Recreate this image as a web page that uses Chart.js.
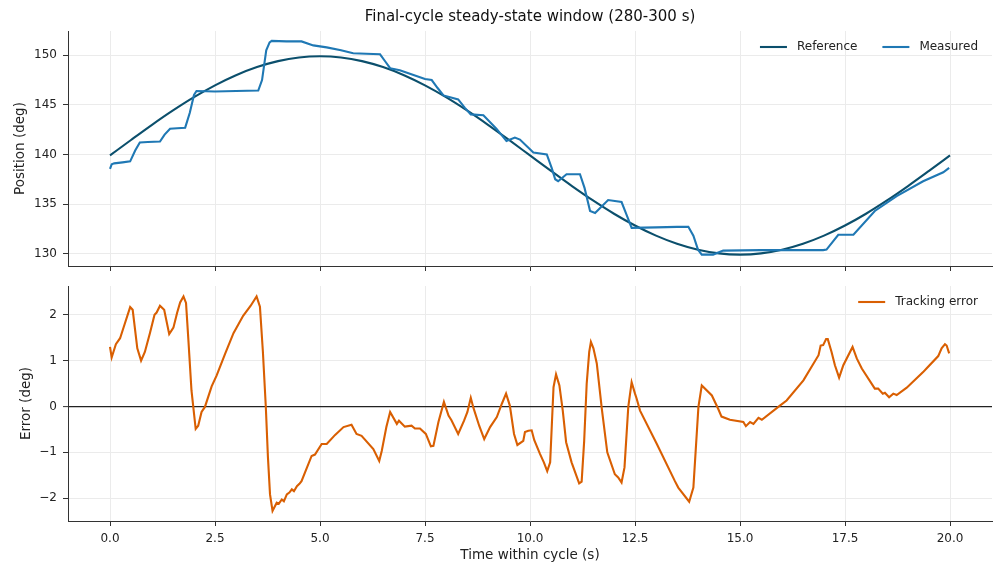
<!DOCTYPE html>
<html>
<head>
<meta charset="utf-8">
<script src="https://cdn.jsdelivr.net/npm/chart.js@4.4.1/dist/chart.umd.min.js"></script>
<style>
  html, body { margin: 0; padding: 0; background: #fff; }
  #wrap { position: relative; width: 993px; height: 566px; }
  canvas { position: absolute; left: 0; }
</style>
</head>
<body>
<div id="wrap">
  <canvas id="posChart" width="993" height="276" style="top:0"></canvas>
  <canvas id="errChart" width="993" height="290" style="top:276px"></canvas>
</div>
<script>
// tick labels
const xTicks = [0, 2.5, 5, 7.5, 10, 12.5, 15, 17.5, 20];
const posTicks = [130, 135, 140, 145, 150];
const errTicks = [-2, -1, 0, 1, 2];

// reference trajectory (deg)
const refTime = [0, 0.5, 1, 1.5, 2, 2.5, 3, 3.5, 4, 4.5, 5, 5.5, 6, 6.5, 7, 7.5, 8, 8.5, 9, 9.5,
  10, 10.5, 11, 11.5, 12, 12.5, 13, 13.5, 14, 14.5, 15, 15.5, 16, 16.5, 17, 17.5, 18, 18.5, 19, 19.5, 20];
const refPos = [139.9, 141.46, 142.99, 144.44, 145.78, 146.97, 147.99, 148.81, 149.41, 149.78, 149.9,
  149.78, 149.41, 148.81, 147.99, 146.97, 145.78, 144.44, 142.99, 141.46, 139.9,
  138.34, 136.81, 135.36, 134.02, 132.83, 131.81, 130.99, 130.39, 130.02, 129.9,
  130.02, 130.39, 130.99, 131.81, 132.83, 134.02, 135.36, 136.81, 138.34, 139.9];

// measured position (deg)
const measTime = [0, 0.04, 0.1, 0.3, 0.48, 0.6, 0.71, 0.9, 1.19, 1.3, 1.43, 1.6, 1.79, 1.9, 2.0, 2.06,
  2.5, 3.0, 3.53, 3.62, 3.72, 3.8, 3.85, 4.2, 4.56, 4.84, 5.16, 5.5, 5.79, 6.1, 6.43, 6.55, 6.67, 6.9,
  7.14, 7.5, 7.66, 7.8, 7.94, 8.29, 8.45, 8.59, 8.89, 9.2, 9.44, 9.64, 9.76, 10.08, 10.4, 10.52, 10.6,
  10.67, 10.87, 11.19, 11.3, 11.43, 11.55, 11.86, 12.18, 12.3, 12.42, 13.0, 13.5, 13.77, 13.89, 14.0,
  14.09, 14.36, 14.6, 15.5, 16.5, 16.98, 17.06, 17.34, 17.7, 18.21, 18.73, 19.36, 19.84, 19.98];
const measPos = [138.55, 139.0, 139.1, 139.2, 139.3, 140.4, 141.2, 141.25, 141.3, 142.0, 142.6, 142.65,
  142.7, 144.2, 146.0, 146.4, 146.35, 146.4, 146.45, 147.5, 150.5, 151.3, 151.45, 151.4, 151.4, 151.0,
  150.8, 150.5, 150.2, 150.15, 150.1, 149.4, 148.7, 148.5, 148.15, 147.6, 147.5, 146.7, 145.95, 145.55,
  144.7, 144.04, 143.95, 142.6, 141.35, 141.7, 141.5, 140.2, 140.0, 138.6, 137.5, 137.3, 138.0, 138.0,
  136.6, 134.3, 134.1, 135.4, 135.2, 133.9, 132.6, 132.65, 132.7, 132.7, 131.8, 130.4, 129.9, 129.9,
  130.3, 130.35, 130.35, 130.35, 130.4, 131.9, 131.9, 134.3, 135.8, 137.3, 138.2, 138.65];

// tracking error (deg)
const errTime = [0, 0.04, 0.14, 0.24, 0.35, 0.48, 0.54, 0.65, 0.74, 0.83, 0.95, 1.06, 1.11, 1.19, 1.29,
  1.41, 1.51, 1.6, 1.67, 1.75, 1.81, 1.87, 1.94, 2.04, 2.1, 2.18, 2.26, 2.42, 2.54, 2.74, 2.94, 3.17,
  3.35, 3.49, 3.57, 3.64, 3.71, 3.76, 3.81, 3.87, 3.97, 4.02, 4.09, 4.14, 4.21, 4.27, 4.33, 4.38, 4.45,
  4.51, 4.56, 4.8, 4.88, 5.04, 5.16, 5.36,
  5.56, 5.75, 5.87, 5.99, 6.27, 6.41, 6.47, 6.58, 6.67, 6.83, 6.88, 7.02, 7.18, 7.26, 7.38, 7.52, 7.64,
  7.7, 7.82, 7.95, 8.06, 8.13, 8.29, 8.43, 8.51, 8.59, 8.65, 8.79, 8.91, 9.05, 9.21, 9.33, 9.43, 9.52,
  9.62, 9.7, 9.84, 9.88, 9.96, 10.04, 10.1, 10.24, 10.33, 10.41, 10.48, 10.52, 10.56, 10.62, 10.7,
  10.78, 10.86, 10.99, 11.17, 11.23, 11.29, 11.35, 11.41, 11.45, 11.51, 11.59, 11.71, 11.84, 12.02,
  12.1, 12.18, 12.25, 12.34, 12.42, 12.5, 12.54, 12.62, 13.02, 13.45, 13.53, 13.79, 13.89, 14.01,
  14.09, 14.33, 14.48, 14.56, 14.76, 15.08, 15.14, 15.24, 15.32, 15.44, 15.52, 15.95, 16.11, 16.51,
  16.87, 16.92, 16.98, 17.05, 17.09, 17.18, 17.26, 17.36, 17.46, 17.68, 17.78, 17.9, 18.21, 18.29,
  18.4, 18.45, 18.55, 18.65, 18.73, 18.97, 19.36, 19.44, 19.72, 19.8, 19.88, 19.92, 19.98];
const errVal = [1.3, 1.07, 1.36, 1.49, 1.8, 2.17, 2.11, 1.27, 1.0, 1.19, 1.6, 2.0, 2.05, 2.2, 2.11,
  1.58, 1.72, 2.05, 2.27, 2.4, 2.26, 1.4, 0.35, -0.49, -0.42, -0.12, -0.01, 0.44, 0.68, 1.15, 1.6, 1.98,
  2.2, 2.4, 2.18, 1.2, -0.01, -1.1, -1.92, -2.28, -2.1, -2.12, -2.03, -2.07, -1.92, -1.88, -1.81, -1.85,
  -1.74, -1.69, -1.63, -1.08, -1.05, -0.82, -0.82,
  -0.62, -0.45, -0.4, -0.6, -0.64, -0.93, -1.19, -0.97, -0.45, -0.12, -0.38, -0.31, -0.44, -0.42, -0.48,
  -0.48, -0.6, -0.87, -0.86, -0.34, 0.1, -0.2, -0.3, -0.6, -0.31, -0.12, 0.19, -0.02, -0.42, -0.71,
  -0.45, -0.23, 0.06, 0.28, 0.02, -0.6, -0.84, -0.75, -0.56, -0.53, -0.52, -0.73, -1.04, -1.22, -1.41,
  -1.22, -0.4, 0.42, 0.7, 0.46, -0.09, -0.78, -1.22, -1.68, -1.64, -0.75, 0.5, 1.19, 1.41, 1.27, 0.94,
  -0.05, -1.0, -1.48, -1.55, -1.66, -1.33, -0.01, 0.53, 0.28, 0.17, -0.09, -0.82, -1.63, -1.77, -2.08,
  -1.77, -0.01, 0.46, 0.24, -0.05, -0.22, -0.29, -0.34, -0.43, -0.34, -0.38, -0.25, -0.29, 0.02, 0.13,
  0.57, 1.12, 1.33, 1.34, 1.47, 1.47, 1.19, 0.9, 0.63, 0.9, 1.3, 1.05, 0.83, 0.39, 0.39, 0.28, 0.3,
  0.2, 0.28, 0.25, 0.41, 0.75, 0.83, 1.1, 1.27, 1.36, 1.33, 1.16];

const toPoints = (xs, ys) => xs.map((x, i) => ({ x: x, y: ys[i] }));

Chart.defaults.font.family = "'DejaVu Sans', sans-serif";
Chart.defaults.font.size = 12;
Chart.defaults.color = "#222";

const gridGrey = "#ebebeb";
const spine = "#333";

// legend drawn inside the plot, top right, like matplotlib
const insideLegend = {
  id: "insideLegend",
  afterDraw(chart) {
    const ctx = chart.ctx;
    const area = chart.chartArea;
    const y = area.top + 16;
    let x = area.right - 14;
    ctx.save();
    ctx.font = "12px 'DejaVu Sans'";
    ctx.textBaseline = "middle";
    ctx.textAlign = "left";
    chart.data.datasets.slice().reverse().forEach(ds => {
      const w = ctx.measureText(ds.label).width;
      const tx = x - w;
      ctx.fillStyle = "#222";
      ctx.fillText(ds.label, tx, y);
      ctx.strokeStyle = ds.borderColor;
      ctx.lineWidth = ds.borderWidth;
      ctx.beginPath();
      ctx.moveTo(tx - 37, y);
      ctx.lineTo(tx - 10, y);
      ctx.stroke();
      x = tx - 37 - 25;
    });
    ctx.restore();
  }
};

function xScale(showLabels) {
  return {
    type: "linear",
    min: -1,
    max: 21,
    afterBuildTicks: s => { s.ticks = xTicks.map(v => ({ value: v })); },
    afterFit: s => { s.height = showLabels ? 45 : 10; },
    grid: { color: gridGrey, tickColor: spine, tickLength: 5, tickWidth: 1 },
    border: { display: true, color: spine, width: 1 },
    ticks: { display: showLabels, padding: 6, callback: v => v.toFixed(1), maxRotation: 0 },
    title: {
      display: showLabels,
      text: "Time within cycle (s)",
      font: { size: 13.5 },
      padding: { top: 0, bottom: 2 }
    }
  };
}

// y axis with a fixed width and no extra label padding, so both panels line up
function fixY(s) {
  s.width = 68;
  s.paddingTop = 0;
  s.paddingBottom = 0;
}

// top panel: position
new Chart(document.getElementById("posChart").getContext("2d"), {
  type: "line",
  data: {
    datasets: [{
      label: "Reference",
      data: toPoints(refTime, refPos),
      borderColor: "#0b4f6c",
      borderWidth: 2.1,
      cubicInterpolationMode: "monotone",
      pointRadius: 0,
      order: 1
    }, {
      label: "Measured",
      data: toPoints(measTime, measPos),
      borderColor: "#1f78b4",
      borderWidth: 2.1,
      tension: 0,
      pointRadius: 0,
      order: 0
    }]
  },
  options: {
    responsive: false,
    animation: false,
    devicePixelRatio: 1,
    layout: { padding: { left: 0, right: 1, top: 0, bottom: 0 } },
    plugins: {
      legend: { display: false },
      tooltip: { enabled: false },
      title: {
        display: true,
        text: "Final-cycle steady-state window (280-300 s)",
        fullSize: false,
        font: { size: 15, weight: "normal" },
        color: "#111",
        padding: { top: 8, bottom: 5 }
      }
    },
    scales: {
      x: xScale(false),
      y: {
        min: 128.75,
        max: 152.45,
        afterBuildTicks: s => { s.ticks = posTicks.map(v => ({ value: v })); },
        afterFit: fixY,
        grid: { color: gridGrey, tickColor: spine, tickLength: 5, tickWidth: 1 },
        border: { display: true, color: spine, width: 1 },
        ticks: { padding: 6 },
        title: {
          display: true,
          text: "Position (deg)",
          font: { size: 13.5 },
          padding: { top: 12.6, bottom: 0 }
        }
      }
    }
  },
  plugins: [insideLegend]
});

// bottom panel: tracking error
new Chart(document.getElementById("errChart").getContext("2d"), {
  type: "line",
  data: {
    datasets: [{
      label: "Tracking error",
      data: toPoints(errTime, errVal),
      borderColor: "#d95f02",
      borderWidth: 2.1,
      tension: 0,
      pointRadius: 0
    }]
  },
  options: {
    responsive: false,
    animation: false,
    devicePixelRatio: 1,
    layout: { padding: { left: 0, right: 1, top: 10, bottom: 0 } },
    plugins: {
      legend: { display: false },
      tooltip: { enabled: false }
    },
    scales: {
      x: xScale(true),
      y: {
        min: -2.5,
        max: 2.63,
        afterBuildTicks: s => { s.ticks = errTicks.map(v => ({ value: v })); },
        afterFit: fixY,
        grid: {
          color: c => (c.tick && c.tick.value === 0 ? "#222" : gridGrey),
          lineWidth: c => (c.tick && c.tick.value === 0 ? 1.2 : 1),
          tickColor: spine,
          tickLength: 5,
          tickWidth: 1
        },
        border: { display: true, color: spine, width: 1 },
        ticks: { padding: 6, callback: v => String(v).replace("-", "\u2212") },
        title: {
          display: true,
          text: "Error (deg)",
          font: { size: 13.5 },
          padding: { top: 18.6, bottom: 0 }
        }
      }
    }
  },
  plugins: [insideLegend]
});
</script>
</body>
</html>
